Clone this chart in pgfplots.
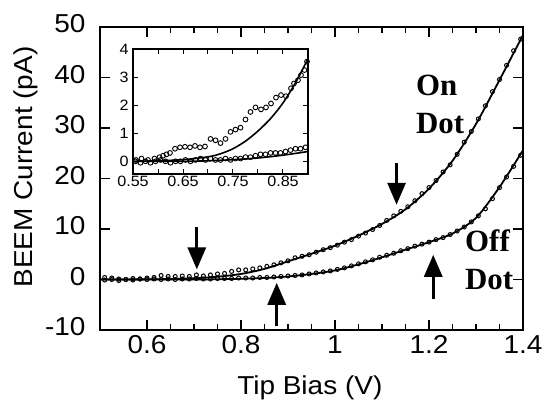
\documentclass[border=0pt]{standalone}
\usepackage{fontspec}
\setmainfont{Liberation Sans}[FakeStretch=1.08]
\newfontfamily\tnr{Liberation Serif}
\usepackage{pgfplots}
\pgfplotsset{compat=1.18}
\usetikzlibrary{arrows.meta}

% main panel, measured data (open circles) and fits (lines)
\pgfplotstableread{
x y
0.510 0.4
0.525 0.3
0.540 0.1
0.555 0.0
0.570 0.2
0.585 0.1
0.600 0.3
0.615 0.4
0.630 0.8
0.645 0.6
0.660 0.6
0.675 0.7
0.690 0.6
0.705 0.9
0.720 0.7
0.735 0.9
0.750 1.1
0.765 1.2
0.780 1.6
0.795 1.9
0.810 1.9
0.825 2.1
0.840 2.3
0.855 2.6
0.870 2.9
0.885 3.3
0.900 3.7
0.915 4.3
0.930 4.6
0.945 4.9
0.960 5.4
0.975 5.9
0.990 6.3
1.005 6.8
1.020 7.4
1.035 7.9
1.050 8.6
1.065 9.2
1.080 9.9
1.095 10.7
1.110 11.7
1.125 12.6
1.140 13.5
1.155 14.4
1.170 15.6
1.185 17.0
1.200 18.2
1.215 19.6
1.230 21.3
1.245 22.7
1.260 24.8
1.275 27.2
1.290 29.3
1.305 31.8
1.320 34.4
1.335 37.2
1.350 39.6
1.365 42.4
1.380 45.3
1.395 47.6
}\ondata
\pgfplotstableread{
x y
0.510 -0.1
0.525 0.0
0.540 -0.2
0.555 0.0
0.570 -0.1
0.585 0.1
0.600 0.0
0.615 0.1
0.630 0.0
0.645 0.1
0.660 0.0
0.675 0.1
0.690 0.1
0.705 0.2
0.720 0.1
0.735 0.1
0.750 0.2
0.765 0.2
0.780 0.2
0.795 0.3
0.810 0.3
0.825 0.3
0.840 0.4
0.855 0.4
0.870 0.5
0.885 0.6
0.900 0.7
0.915 0.8
0.930 0.9
0.945 1.1
0.960 1.3
0.975 1.5
0.990 1.7
1.005 2.0
1.020 2.3
1.035 2.7
1.050 3.1
1.065 3.5
1.080 3.9
1.095 4.4
1.110 4.8
1.125 5.2
1.140 5.7
1.155 6.1
1.170 6.6
1.185 7.0
1.200 7.4
1.215 7.9
1.230 8.3
1.245 8.9
1.260 9.6
1.275 10.4
1.290 11.4
1.305 12.6
1.320 14.0
1.335 16.0
1.350 18.2
1.365 20.3
1.380 22.4
1.395 24.6
}\offdata
\pgfplotstableread{
x y
0.50 0.0
0.60 0.03
0.65 0.10
0.70 0.25
0.75 0.55
0.80 1.10
0.85 2.10
0.90 3.60
0.95 5.10
1.00 6.70
1.05 8.70
1.10 11.0
1.15 13.9
1.20 18.0
1.25 23.5
1.30 30.8
1.35 39.5
1.40 48.4
}\onfit
\pgfplotstableread{
x y
0.50 0.0
0.70 0.0
0.75 0.05
0.80 0.15
0.85 0.3
0.90 0.6
0.95 1.1
1.00 1.8
1.05 3.0
1.10 4.4
1.15 5.9
1.20 7.4
1.25 9.1
1.30 12.2
1.35 18.3
1.40 25.6
}\offfit

% inset
\pgfplotstableread{
x y
0.556 0.05
0.567 0.10
0.580 0.05
0.593 0.10
0.603 0.15
0.610 0.20
0.617 0.25
0.624 0.30
0.634 0.45
0.644 0.50
0.654 0.52
0.664 0.50
0.674 0.55
0.684 0.50
0.694 0.53
0.705 0.80
0.715 0.75
0.725 0.65
0.735 0.80
0.745 1.05
0.755 1.13
0.765 1.20
0.775 1.49
0.785 1.76
0.795 1.92
0.806 1.85
0.816 1.92
0.826 2.06
0.836 2.27
0.846 2.36
0.856 2.32
0.866 2.60
0.872 2.77
0.880 2.89
0.886 3.07
0.893 3.25
0.898 3.55
}\oninset
\pgfplotstableread{
x y
0.555 0.0
0.565 -0.05
0.575 0.0
0.585 -0.05
0.595 0.0
0.605 0.05
0.615 0.0
0.625 -0.05
0.635 0.0
0.645 0.0
0.655 0.05
0.665 0.0
0.675 0.05
0.685 0.1
0.695 0.05
0.705 0.1
0.715 0.05
0.725 0.05
0.735 0.1
0.745 0.05
0.755 0.1
0.765 0.1
0.775 0.15
0.785 0.15
0.795 0.2
0.805 0.25
0.815 0.25
0.825 0.3
0.835 0.3
0.845 0.3
0.855 0.35
0.865 0.4
0.875 0.45
0.885 0.45
0.895 0.5
}\offinset
\pgfplotstableread{
x y
0.55 0.0
0.60 0.02
0.65 0.06
0.70 0.16
0.725 0.27
0.75 0.45
0.775 0.72
0.80 1.08
0.825 1.52
0.85 2.08
0.875 2.80
0.90 3.65
}\oninsetfit
\pgfplotstableread{
x y
0.55 0.0
0.65 0.0
0.70 0.02
0.75 0.06
0.80 0.12
0.85 0.22
0.90 0.35
}\offinsetfit

\begin{document}
\begin{tikzpicture}
\useasboundingbox (-100bp,-74bp) rectangle (451bp,330bp);
\begin{axis}[
  scale only axis, width=423bp, height=303bp,
  xmin=0.5, xmax=1.4, ymin=-10, ymax=50,
  xtick={0.6,0.8,1,1.2,1.4}, minor x tick num=3,
  ytick={-10,0,...,50},
  tick align=inside, major tick length=10bp, minor tick length=6bp,
  every tick/.style={black, line width=1.2bp},
  axis line style={line width=1.6bp},
  font=\fontsize{26}{30}\selectfont,
  /pgf/number format/assume math mode=true,
  yticklabel style={xshift=-11bp, yshift=3bp},
  xticklabel style={yshift=-2bp},
  xlabel={Tip Bias (V)}, ylabel={BEEM Current (pA)},
  xlabel style={at={(axis description cs:0.496,-0.19)}, anchor=center},
  ylabel style={at={(axis description cs:-0.175,0.538)}, anchor=center},
  clip=false,
]
\addplot[black, line width=1.8bp, smooth] table {\onfit};
\addplot[black, line width=1.8bp, smooth] table {\offfit};
\addplot[only marks, mark=o, mark size=2bp, mark options={line width=1bp, black}] table {\ondata};
\addplot[only marks, mark=o, mark size=2bp, mark options={line width=1bp, black}] table {\offdata};

\draw[line width=3bp, -{Triangle[width=18bp,length=22bp]}] (axis cs:0.706,10.3) -- (axis cs:0.706,2.0);
\draw[line width=3bp, -{Triangle[width=18bp,length=22bp]}] (axis cs:0.876,-9.2) -- (axis cs:0.876,-0.65);
\draw[line width=3bp, -{Triangle[width=18bp,length=22bp]}] (axis cs:1.131,23.0) -- (axis cs:1.131,14.8);
\draw[line width=3bp, -{Triangle[width=18bp,length=22bp]}] (axis cs:1.209,-3.9) -- (axis cs:1.209,4.9);

\node[anchor=base west, inner sep=0pt, font=\tnr\bfseries\fontsize{31}{34}\selectfont] at (axis cs:1.172,36.5) {On};
\node[anchor=base west, inner sep=0pt, font=\tnr\bfseries\fontsize{31}{34}\selectfont] at (axis cs:1.172,29.0) {Dot};
\node[anchor=base west, inner sep=0pt, font=\tnr\bfseries\fontsize{31}{34}\selectfont] at (axis cs:1.2766,5.6) {Off};
\node[anchor=base west, inner sep=0pt, font=\tnr\bfseries\fontsize{31}{34}\selectfont] at (axis cs:1.2766,-2.0) {Dot};
\end{axis}

\begin{axis}[
  at={(33bp,156bp)}, anchor=south west,
  scale only axis, width=175bp, height=125bp,
  xmin=0.55, xmax=0.9, ymin=-0.45, ymax=4,
  xtick={0.55,0.65,0.75,0.85}, minor xtick={0.6,0.7,0.8,0.9},
  ytick={0,1,2,3,4},
  x tick label style={yshift=1bp, /pgf/number format/fixed, /pgf/number format/fixed zerofill, /pgf/number format/precision=2},
  tick align=inside, major tick length=5bp, minor tick length=5bp,
  every tick/.style={black, line width=1bp},
  axis line style={line width=1.4bp},
  axis background/.style={fill=white},
  font=\fontsize{15}{18}\selectfont,
  /pgf/number format/assume math mode=true,
  y tick label style={xshift=-1bp},
]
\addplot[black, line width=1.6bp, smooth] table {\oninsetfit};
\addplot[black, line width=1.6bp, smooth] table {\offinsetfit};
\addplot[only marks, mark=o, mark size=2.4bp, mark options={line width=0.9bp, black}] table {\oninset};
\addplot[only marks, mark=o, mark size=2.4bp, mark options={line width=0.9bp, black}] table {\offinset};
\end{axis}
\end{tikzpicture}
\end{document}
